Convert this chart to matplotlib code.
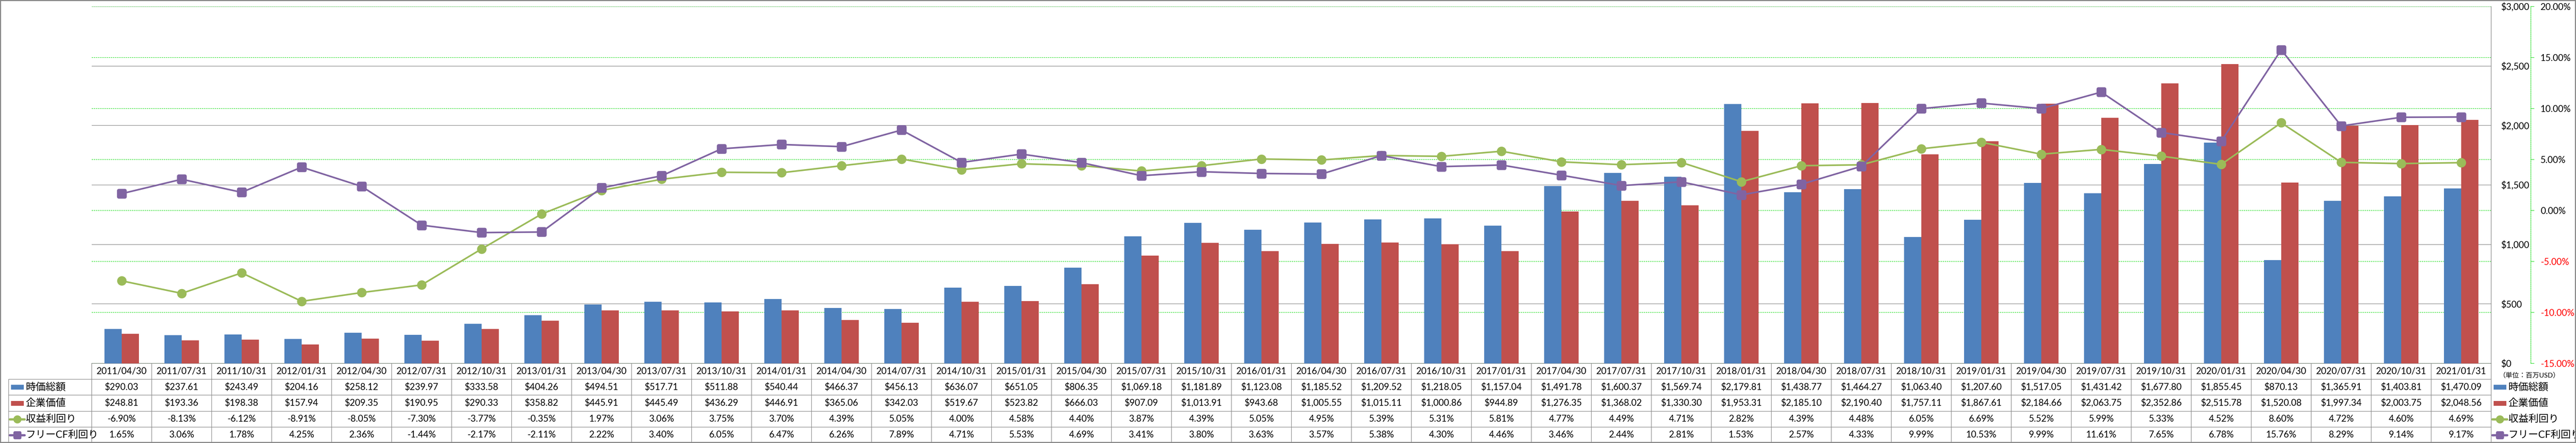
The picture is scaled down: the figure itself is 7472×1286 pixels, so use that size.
import matplotlib
matplotlib.use("Agg")
import matplotlib.pyplot as plt
import numpy as np
from matplotlib.path import Path
from matplotlib.patches import Rectangle
import matplotlib.transforms as mtransforms

plt.rcParams['font.family'] = ['Lato', 'Noto Sans CJK JP', 'DejaVu Sans']

# ---------------- data ----------------
dates = ["2011/04/30", "2011/07/31", "2011/10/31", "2012/01/31", "2012/04/30", "2012/07/31",
         "2012/10/31", "2013/01/31", "2013/04/30", "2013/07/31", "2013/10/31", "2014/01/31",
         "2014/04/30", "2014/07/31", "2014/10/31", "2015/01/31", "2015/04/30", "2015/07/31",
         "2015/10/31", "2016/01/31", "2016/04/30", "2016/07/31", "2016/10/31", "2017/01/31",
         "2017/04/30", "2017/07/31", "2017/10/31", "2018/01/31", "2018/04/30", "2018/07/31",
         "2018/10/31", "2019/01/31", "2019/04/30", "2019/07/31", "2019/10/31", "2020/01/31",
         "2020/04/30", "2020/07/31", "2020/10/31", "2021/01/31"]

market_cap = [290.03, 237.61, 243.49, 204.16, 258.12, 239.97, 333.58, 404.26, 494.51, 517.71,
              511.88, 540.44, 466.37, 456.13, 636.07, 651.05, 806.35, 1069.18, 1181.89, 1123.08,
              1185.52, 1209.52, 1218.05, 1157.04, 1491.78, 1600.37, 1569.74, 2179.81, 1438.77, 1464.27,
              1063.40, 1207.60, 1517.05, 1431.42, 1677.80, 1855.45, 870.13, 1365.91, 1403.81, 1470.09]

enterprise_value = [248.81, 193.36, 198.38, 157.94, 209.35, 190.95, 290.33, 358.82, 445.91, 445.49,
                    436.29, 446.91, 365.06, 342.03, 519.67, 523.82, 666.03, 907.09, 1013.91, 943.68,
                    1005.55, 1015.11, 1000.86, 944.89, 1276.35, 1368.02, 1330.30, 1953.31, 2185.10, 2190.40,
                    1757.11, 1867.61, 2184.66, 2063.75, 2352.86, 2515.78, 1520.08, 1997.34, 2003.75, 2048.56]

earnings_yield = [-6.90, -8.13, -6.12, -8.91, -8.05, -7.30, -3.77, -0.35, 1.97, 3.06,
                  3.75, 3.70, 4.39, 5.05, 4.00, 4.58, 4.40, 3.87, 4.39, 5.05,
                  4.95, 5.39, 5.31, 5.81, 4.77, 4.49, 4.71, 2.82, 4.39, 4.48,
                  6.05, 6.69, 5.52, 5.99, 5.33, 4.52, 8.60, 4.72, 4.60, 4.69]

fcf_yield = [1.65, 3.06, 1.78, 4.25, 2.36, -1.44, -2.17, -2.11, 2.22, 3.40,
             6.05, 6.47, 6.26, 7.89, 4.71, 5.53, 4.69, 3.41, 3.80, 3.63,
             3.57, 5.38, 4.30, 4.46, 3.46, 2.44, 2.81, 1.53, 2.57, 4.33,
             9.99, 10.53, 9.99, 11.61, 7.65, 6.78, 15.76, 8.29, 9.14, 9.17]

series_names = ["時価総額", "企業価値", "収益利回り", "フリーCF利回り"]
unit_label = "（単位：百万USD）"
left_ticks = [0, 500, 1000, 1500, 2000, 2500, 3000]
right_ticks = [-15, -10, -5, 0, 5, 10, 15, 20]

# ---------------- style ----------------
BLUE, RED, GREEN, PURPLE = "#4F81BD", "#C0504D", "#9BBB59", "#8064A2"
GRID = "#8C8C8C"
GGRID = "#22DD22"
PX = 0.72  # points per pixel at dpi 100

W, H = 7472, 1286
fig = plt.figure(figsize=(W / 100, H / 100), dpi=100)
PL, PR, PT, PB = 266, 7226, 19, 1055
ax = fig.add_axes([PL / W, 1 - PB / H, (PR - PL) / W, (PB - PT) / H])

n = len(dates)
x = np.arange(n)
cat_px = (PR - PL) / n
u = 1.0 / cat_px  # one pixel in category units
bw = 50 * u

ax.bar(x - bw / 2, market_cap, bw, color=BLUE, zorder=3)
ax.bar(x + bw / 2, enterprise_value, bw, color=RED, zorder=3)
ax.set_xlim(-0.5, n - 0.5)
ax.set_ylim(0, 3000)
ax.set_xticks([])
ax.set_yticks(left_ticks, [f"${v:,}" for v in left_ticks])
for s in ['left', 'top']:
    ax.spines[s].set_visible(False)
for s in ['right', 'bottom']:
    ax.spines[s].set_color(GRID)
    ax.spines[s].set_linewidth(1.6 * PX)
ax.grid(axis='y', color=GRID, lw=1.6 * PX)
ax.set_axisbelow(True)

ax2 = ax.twinx()
ax2.set_ylim(-15, 20)
ax2.set_xlim(-0.5, n - 0.5)

# primary value labels on the right side (after twinx, which resets them)
ax.yaxis.tick_right()
ax.tick_params(axis='y', which='both', left=False, labelleft=False, right=True,
               labelright=True, length=0, pad=29 * PX, labelsize=19)

# green dashed gridlines (behind bars) on the percentage scale
blend = mtransforms.blended_transform_factory(ax.transAxes, ax2.transData)
for v in right_ticks:
    ax.plot([0, 1], [v, v], transform=blend, color=GGRID, lw=1.5 * PX,
            linestyle=(0, (2.7, 1.4)), zorder=1)

# rounded square marker
def rounded_square(r=0.35, k=8):
    verts = []
    for (cx, cy, a0) in [(1 - r, 1 - r, 0), (-1 + r, 1 - r, 90), (-1 + r, -1 + r, 180), (1 - r, -1 + r, 270)]:
        for t in np.linspace(np.radians(a0), np.radians(a0 + 90), k):
            verts.append((cx + r * np.cos(t), cy + r * np.sin(t)))
    verts.append(verts[0])
    codes = [Path.MOVETO] + [Path.LINETO] * (len(verts) - 2) + [Path.CLOSEPOLY]
    return Path(verts, codes)

RSQ = rounded_square()

ax2.plot(x, earnings_yield, color=GREEN, lw=4.7 * PX, marker='o', ms=26 * PX,
         mec=GREEN, mfc=GREEN, zorder=4, solid_joinstyle='round')
ax2.plot(x, fcf_yield, color=PURPLE, lw=4.7 * PX, marker=RSQ, ms=27 * PX,
         mec=PURPLE, mfc=PURPLE, zorder=5, solid_joinstyle='round')

ax2.set_yticks(right_ticks, [f"{v:.2f}%" for v in right_ticks])
for s in ['left', 'top', 'bottom']:
    ax2.spines[s].set_visible(False)
ax2.spines['right'].set_position(('outward', (7341 - PR) * PX))
ax2.spines['right'].set_color(GGRID)
ax2.spines['right'].set_linestyle((0, (2.7, 1.4)))
ax2.spines['right'].set_linewidth(1.5 * PX)
ax2.tick_params(axis='y', length=10 * PX, width=1.5 * PX, color=GGRID,
                pad=18 * PX, labelsize=19, direction='out')
for lbl, v in zip(ax2.get_yticklabels(), right_ticks):
    lbl.set_color('red' if v < 0 else 'black')

# ---------------- data table ----------------
tax = fig.add_axes([PL / W, 0, (PR - PL) / W, (H - PB) / H])
tax.set_xlim(-0.5, n - 0.5)
tax.set_ylim(0, 5)
tax.axis('off')
hx0 = -0.5 - (PL - 25) * u
row_px = (H - PB) / 5.0
v = 1.0 / row_px

tax.hlines([1, 2, 3, 4], hx0, n - 0.5, color=GRID, lw=1.6 * PX, clip_on=False)
tax.vlines(np.arange(n + 1) - 0.5, 0, 5, color=GRID, lw=1.6 * PX, clip_on=False)
tax.vlines([hx0], 0, 4, color=GRID, lw=1.6 * PX, clip_on=False)

rows = [
    [f"${val:,.2f}" for val in market_cap],
    [f"${val:,.2f}" for val in enterprise_value],
    [f"{val:.2f}%" for val in earnings_yield],
    [f"{val:.2f}%" for val in fcf_yield],
]
for i, d in enumerate(dates):
    tax.text(i, 4.5, d, ha='center', va='center', fontsize=19, clip_on=False)
for r, vals in enumerate(rows):
    yc = 3.5 - r
    for i, s in enumerate(vals):
        tax.text(i, yc, s, ha='center', va='center', fontsize=19, clip_on=False)


def draw_key(x0, yc, kind):
    if kind in ('bar_blue', 'bar_red'):
        col = BLUE if kind == 'bar_blue' else RED
        tax.add_patch(Rectangle((x0 + 7 * u, yc - 7 * v), 37 * u, 14 * v,
                                facecolor=col, edgecolor='none', clip_on=False))
    else:
        col = GREEN if kind == 'line_green' else PURPLE
        mk = 'o' if kind == 'line_green' else RSQ
        tax.plot([x0 + 3 * u, x0 + 24.5 * u, x0 + 46 * u], [yc] * 3, color=col,
                 lw=6.5 * PX, marker=mk, markevery=[1], ms=22 * PX, mec=col, mfc=col,
                 clip_on=False, solid_capstyle='round')


kinds = ['bar_blue', 'bar_red', 'line_green', 'line_purple']
for r, (name, kind) in enumerate(zip(series_names, kinds)):
    yc = 3.5 - r
    for x0 in (hx0, n - 0.5):
        draw_key(x0, yc, kind)
        tax.text(x0 + 50 * u, yc, name, ha='left', va='center', fontsize=21, clip_on=False)

tax.text(n - 0.5 + 22 * u, 5 - (1090 - PB) * v, unit_label, ha='left', va='center',
         fontsize=14, clip_on=False)

# outer frame
fig.add_artist(Rectangle((0, 0), 1, 1, transform=fig.transFigure, fill=False,
                         edgecolor='#868686', lw=6 * PX))

fig.savefig("out.png", dpi=100)
